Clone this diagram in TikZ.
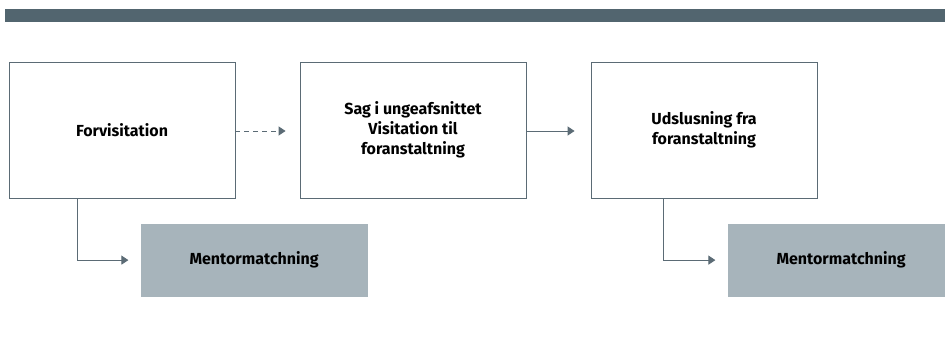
\documentclass[tikz,border=0pt]{standalone}
\usepackage{fontspec}
\setmainfont{Fira Sans}
\usepackage{tikz}
\usetikzlibrary{arrows.meta,positioning}
\definecolor{barC}{HTML}{52656F}
\definecolor{lineC}{HTML}{5B6B75}
\definecolor{mentorC}{HTML}{A7B4BB}
\newcommand{\BoxT}[1]{\textbf{#1}}

\begin{document}
\begin{tikzpicture}[x=1pt,y=-1pt,font=\fontsize{16}{20}\selectfont]
          \useasboundingbox (0,0) rectangle (945,340);
          \tikzstyle{boxs} = [draw=lineC, line width=0.8pt, fill=white, minimum width=226pt,
            minimum height=136pt, align=center, inner sep=0pt]
          \tikzstyle{boxsM} = [fill=mentorC, minimum width=227pt, minimum height=73pt,
            align=center, inner sep=0pt]
          \tikzstyle{line} = [draw=lineC,-{Triangle[length=7pt,width=9pt]},line width=1pt]
          \tikzstyle{lineD} = [line,dashed,dash pattern=on 5pt off 4pt]

          % top bar
          \fill[barC] (5,9) rectangle (945,22);

          \node(Forvisitation)[boxs] at (122,130){\BoxT{Forvisitation}};

          \tikzset{node distance = 291pt}
          \node(Sag)[boxs,right of = Forvisitation]{\BoxT{Sag i ungeafsnittet}\\\BoxT{Visitation til}\\\BoxT{foranstaltning}};
          \node(Udslusning)[boxs,right of = Sag]{\BoxT{Udslusning fra}\\\BoxT{foranstaltning}};

          \node(MentorA)[boxsM,below right = 25pt and -95pt of Forvisitation.south east,anchor=north west]{\BoxT{Mentormatchning}};
          \node(MentorB)[boxsM,below right = 25pt and -90pt of Udslusning.south east,anchor=north west]{\BoxT{Mentormatchning}};

          \draw[lineD] ([yshift=-1pt]Forvisitation.east) -- ([xshift=-14pt,yshift=-1pt]Sag.west);
          \draw[line] ([yshift=-1pt]Sag.east) -- ([xshift=-16pt,yshift=-1pt]Udslusning.west);

          \draw[line] ([xshift=69pt]Forvisitation.south west) |- ([xshift=-12pt]MentorA.west);
          \draw[line] ([xshift=73pt]Udslusning.south west) |- ([xshift=-12pt]MentorB.west);
        \end{tikzpicture}
\end{document}
